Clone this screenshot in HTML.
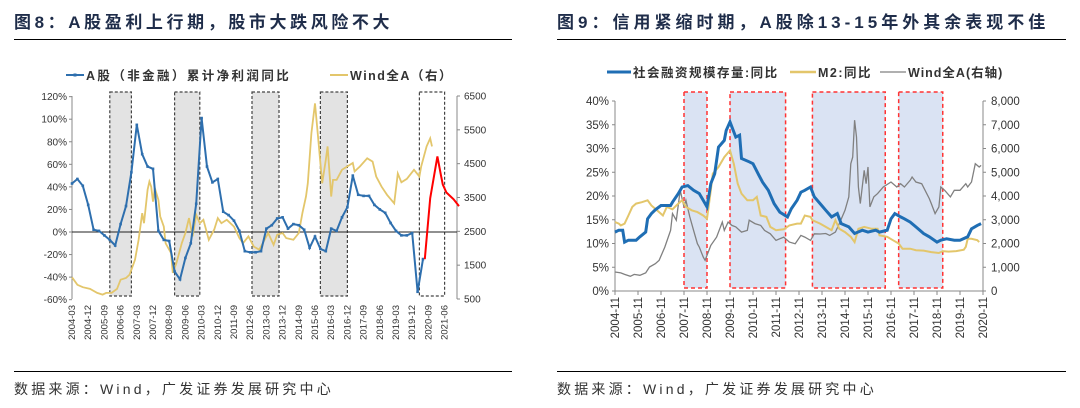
<!DOCTYPE html>
<html><head><meta charset="utf-8">
<style>
body{margin:0;background:#fff;}
svg{display:block;font-family:"Liberation Sans","Noto Sans CJK SC",sans-serif;}
</style></head>
<body>
<svg id="c" width="1080" height="408" viewBox="0 0 1080 408">
<text x="14" y="28" font-size="17" font-weight="bold" fill="#1f2d4a" letter-spacing="3.6">图8：A股盈利上行期，股市大跌风险不大</text>
<line x1="14" y1="39.5" x2="512" y2="39.5" stroke="#000" stroke-width="1"/>
<text x="557" y="28" font-size="17" font-weight="bold" fill="#1f2d4a" letter-spacing="4">图9：信用紧缩时期，A股除13-15年外其余表现不佳</text>
<line x1="557" y1="39.5" x2="1066" y2="39.5" stroke="#000" stroke-width="1"/>
<line x1="14" y1="371.5" x2="512" y2="371.5" stroke="#000" stroke-width="1"/>
<line x1="557" y1="371.5" x2="1066" y2="371.5" stroke="#000" stroke-width="1"/>
<text x="14" y="394" font-size="14" fill="#333" letter-spacing="3.2">数据来源：Wind，广发证券发展研究中心</text>
<text x="557" y="394" font-size="14" fill="#333" letter-spacing="3.2">数据来源：Wind，广发证券发展研究中心</text>
</svg>
<script>
// ---------- LEFT CHART DATA ----------
const leftBoxes = [[21,33],[57,71],[100,115],[138,153],[193,207]];
const leftBoxFill = [true,true,true,true,false];
const leftYTicks = [120,100,80,60,40,20,0,-20,-40,-60];
const leftRTicks = [6500,5500,4500,3500,2500,1500,500];
const leftXLabels = ["2004-03","2004-12","2005-09","2006-06","2007-03","2007-12","2008-09","2009-06","2010-03","2010-12","2011-09","2012-06","2013-03","2013-12","2014-09","2015-06","2016-03","2016-12","2017-09","2018-06","2019-03","2019-12","2020-09","2021-06"];
const profitVals = [43,47,41,24,2,1,-3,-7,-12,7,23,53,95,69,58,56,1,-7,-8,-35,-42,-23,-10,25,101,58,44,47,18,15,10,1,-17,-18,-18,-17,3,6,12,13,3,7,6,2,-14,-4,-15,-17,3,1,13,22,50,33,32,32,24,20,17,8,1,-3,-3,-1,-53,-24];
const forecastMonths = [196,199,203,205,206,208,212,215];
const forecastVals = [-24,30,67,50,42,35,29,23];
const windLMonths = [0,3,6,10,14,17,19,22,25,27,30,32,35,37,39,40,42,43,44,45,46,48,49,51,52,55,56,58,61,63,65,67,69,71,73,76,79,81,83,86,90,93,95,98,101,104,106,109,112,114,117,119,123,126,128,130,131,133,135,137,139,141,142,144,145,147,150,153,156,157,160,164,167,169,172,175,179,181,183,186,190,193,194,197,199,200];
const windLVals = [1140,920,850,800,680,630,680,680,800,1070,1120,1220,1660,2250,3040,2740,3730,3970,3820,3380,3780,3430,2940,2640,2150,1860,1270,1560,2150,2450,2890,2350,2990,2740,2840,2250,2550,2890,2740,2840,2640,2300,2150,2350,2050,1960,2150,2450,2100,2400,2450,2300,2250,2450,3040,3530,3920,5400,6280,5110,3920,4610,5010,3530,4020,4020,4320,4420,4520,4270,4420,4660,4560,4120,3820,3580,3330,4210,3950,4050,4320,4120,4420,5010,5250,5010];

// ---------- RIGHT CHART DATA ----------
const rightBoxes = [[36,48],[60,89],[103,141],[148,171]];
const rightYTicks = [0,5,10,15,20,25,30,35,40];
const rightRTicks = [0,1000,2000,3000,4000,5000,6000,7000,8000];
const rightXLabels = ["2004-11","2005-11","2006-11","2007-11","2008-11","2009-11","2010-11","2011-11","2012-11","2013-11","2014-11","2015-11","2016-11","2017-11","2018-11","2019-11","2020-11"];
const tsfMonths = [0,2,4,5,7,10,11,13,16,17,19,21,24,26,29,30,33,35,38,41,44,46,48,50,52,54,57,58,60,63,65,66,70,72,75,77,80,83,86,90,92,95,97,99,102,104,107,110,113,116,118,122,125,129,132,136,138,142,144,146,149,151,154,157,161,164,168,170,173,177,180,184,186,189,191];
const tsfVals = [12.4,12.8,12.8,10.3,10.7,10.7,10.7,11.4,12.4,15.2,16.3,17.1,18,18,18,18.7,20.5,21.9,22.2,21.2,20.5,19.1,17.7,22.6,24.7,30.3,31.7,33.8,35.6,32.4,32.8,27.9,27.2,26.8,24.4,22.9,21.2,18.4,16.6,15.6,17.3,19.1,20.8,21.2,21.9,19.8,18.4,17,15.6,16.3,14.2,13.5,12.1,12.8,12.4,12.8,12.4,12.8,15.2,16.3,15.6,15.2,14.5,13.5,12.1,11.4,10.3,10.7,11,10.7,10.7,11.4,13.1,13.8,14.2];
const m2Months = [0,2,3,5,7,9,11,14,17,19,21,23,25,27,30,32,35,37,40,43,46,48,50,51,54,57,60,62,64,66,69,72,74,76,79,81,84,88,91,95,97,99,102,103,107,110,113,115,117,120,123,125,127,130,134,137,138,142,145,148,150,154,157,161,165,169,171,174,178,182,183,184,186,189,190];
const m2Vals = [14.5,14.2,13.8,14.2,15.9,17.7,18.4,18.7,19.1,18,17.3,16.6,15.9,17.7,17.2,18,19.1,17.7,17,16.6,15.9,15.2,21.2,24.7,26.1,28.2,29.6,26.8,22.6,20.5,19.1,19.1,19.8,15.9,15.6,13.5,12.8,13,13.8,14.2,14.2,15.9,15.6,14.9,14.2,13.5,12.8,14.9,13.1,12.4,11.4,10.3,13.1,13.5,13.1,13.1,11.7,11.4,10.7,10,8.9,8.9,8.6,8.5,8.2,8,8.4,8.3,8.4,8.7,9.3,11,11,10.7,10.3];
const windRMonths = [0,3,5,8,10,13,16,18,21,23,26,29,30,32,34,36,37,39,41,43,44,46,47,49,50,53,56,57,59,61,63,66,69,70,73,76,78,81,84,88,91,94,97,99,102,104,107,110,112,115,117,120,122,123,124,125,126,127,128,130,131,132,133,135,137,140,144,147,149,151,154,155,157,160,164,165,167,169,170,172,175,177,180,183,184,186,188,190,191];
const windRVals = [800,760,700,620,700,660,760,1010,1150,1290,1850,2550,3260,2980,4240,3540,3820,3120,2550,1990,1850,1430,1290,1710,1920,2270,2900,2550,2900,2760,2700,2480,2550,2980,2840,2760,2550,2410,2130,2270,2060,1990,2340,2270,2130,2410,2400,2420,2340,2480,2840,3400,3960,5360,5640,7190,6480,4380,3680,5080,4520,5220,3540,3960,4100,4380,4590,4380,4520,4380,4660,4800,4590,4520,3890,3680,3260,3540,4380,4240,3960,4240,4240,4520,4380,4590,5360,5220,5290];

// ---------- AXES ----------
const xL = m => 72 + m * 1.8;
const yL = p => 232 - p * 1.128;
const yLr = v => 299 - (v - 500) * 203 / 6000;
const xR = m => 615 + m * 1.9167;
const yR = p => 291 - p * 4.75;
const yRr = v => 291 - v * 190 / 8000;

const svg = document.getElementById('c');
const NS = 'http://www.w3.org/2000/svg';
function mk(tag, attrs, text){
  const e = document.createElementNS(NS, tag);
  for (const k in attrs) e.setAttribute(k, attrs[k]);
  if (text !== undefined) e.textContent = text;
  svg.appendChild(e);
  return e;
}
function pts(ms, vs, fx, fy){ return ms.map((m,i)=>fx(m).toFixed(1)+','+fy(vs[i]).toFixed(1)).join(' '); }

leftBoxes.forEach((b,i)=>{
  const r = mk('rect',{x:xL(b[0]),y:92,width:xL(b[1])-xL(b[0]),height:204,fill:leftBoxFill[i]?'#e3e3e3':'none',stroke:'#444','stroke-width':1.2,'stroke-dasharray':'3,2'});
  
  
});
rightBoxes.forEach(b=>{
  const r = mk('rect',{x:xR(b[0]),y:92,width:xR(b[1])-xR(b[0]),height:196,fill:'#dae3f3',stroke:'#ff3333','stroke-width':1.5,'stroke-dasharray':'4,3'});
  
  
});

let a = mk('line',{x1:72,y1:96,x2:72,y2:299,stroke:'#888'});


a = mk('line',{x1:457,y1:96,x2:457,y2:299,stroke:'#888'});


a = mk('line',{x1:72,y1:yL(0),x2:457,y2:yL(0),stroke:'#222'});


leftYTicks.forEach(t=>{
  const e = mk('text',{x:67,y:yL(t)+3.5,'font-size':10,'text-anchor':'end',fill:'#333'}, t+'%');
  
  
  const k = mk('line',{x1:69,y1:yL(t),x2:72,y2:yL(t),stroke:'#888'});
  
  
});
leftRTicks.forEach(t=>{
  const e = mk('text',{x:464,y:yLr(t)+3.5,'font-size':10,fill:'#333'}, t);
  
  
  const k = mk('line',{x1:457,y1:yLr(t),x2:460,y2:yLr(t),stroke:'#888'});
  
  
});
leftXLabels.forEach((s,i)=>{
  const x = xL(i*9)+3;
  const e = mk('text',{x:x,y:305,'font-size':9.5,'text-anchor':'end',fill:'#333',transform:`rotate(-90 ${x} 305)`}, s);
  
  
});

let p = mk('polyline',{points:pts(windLMonths,windLVals,xL,yLr),fill:'none',stroke:'#e3c66b','stroke-width':1.8});


const profitMonths = profitVals.map((v,i)=>i*3);
p = mk('polyline',{points:pts(profitMonths,profitVals,xL,yL),fill:'none',stroke:'#2e6fae','stroke-width':2});


profitVals.forEach((v,i)=>{
  const r = mk('rect',{x:xL(i*3)-1.3,y:yL(v)-1.3,width:2.6,height:2.6,fill:'#2e6fae'});
  
  
});
p = mk('polyline',{points:pts(forecastMonths,forecastVals,xL,yL),fill:'none',stroke:'#ff0000','stroke-width':2});



a = mk('line',{x1:66,y1:75,x2:84,y2:75,stroke:'#2e6fae','stroke-width':2});


a = mk('rect',{x:73.5,y:73.5,width:3,height:3,fill:'#2e6fae'});


a = mk('text',{x:86,y:80,'font-size':12.5,'font-weight':'bold',fill:'#333','letter-spacing':2.4},'A股（非金融）累计净利润同比');


a = mk('line',{x1:330,y1:75,x2:348,y2:75,stroke:'#e3c66b','stroke-width':2});


a = mk('text',{x:350,y:80,'font-size':12.5,'font-weight':'bold',fill:'#333','letter-spacing':1.5},'Wind全A（右）');



a = mk('line',{x1:615,y1:101,x2:615,y2:291,stroke:'#888'});


a = mk('line',{x1:983,y1:101,x2:983,y2:291,stroke:'#888'});


a = mk('line',{x1:615,y1:291,x2:983,y2:291,stroke:'#888'});


rightYTicks.forEach(t=>{
  const e = mk('text',{x:609,y:yR(t)+4,'font-size':11.5,'text-anchor':'end',fill:'#333'}, t+'%');
  
  
  const k = mk('line',{x1:612,y1:yR(t),x2:615,y2:yR(t),stroke:'#888'});
  
  
});
rightRTicks.forEach(t=>{
  const e = mk('text',{x:991,y:yRr(t)+4,'font-size':11.5,fill:'#333'}, t.toLocaleString('en-US'));
  
  
  const k = mk('line',{x1:983,y1:yRr(t),x2:986,y2:yRr(t),stroke:'#888'});
  
  
});
rightXLabels.forEach((s,i)=>{
  const x = xR(i*12)+4;
  const k = mk('line',{x1:xR(i*12),y1:291,x2:xR(i*12),y2:295,stroke:'#888'});
  
  
  const e = mk('text',{x:x,y:297,'font-size':11.5,'text-anchor':'end',fill:'#333',transform:`rotate(-90 ${x} 297)`}, s);
  
  
});

p = mk('polyline',{points:pts(windRMonths,windRVals,xR,yRr),fill:'none',stroke:'#808080','stroke-width':1.3});


p = mk('polyline',{points:pts(m2Months,m2Vals,xR,yR),fill:'none',stroke:'#e3c66b','stroke-width':2});


p = mk('polyline',{points:pts(tsfMonths,tsfVals,xR,yR),fill:'none',stroke:'#1f6eb4','stroke-width':3});



a = mk('line',{x1:607,y1:72,x2:631,y2:72,stroke:'#1f6eb4','stroke-width':3});


a = mk('text',{x:633,y:77,'font-size':12.5,'font-weight':'bold',fill:'#333','letter-spacing':1.5},'社会融资规模存量:同比');


a = mk('line',{x1:790,y1:72,x2:816,y2:72,stroke:'#e3c66b','stroke-width':2.5});


a = mk('text',{x:818,y:77,'font-size':12.5,'font-weight':'bold',fill:'#333','letter-spacing':1.5},'M2:同比');


a = mk('line',{x1:880,y1:72,x2:906,y2:72,stroke:'#808080','stroke-width':1.3});


a = mk('text',{x:908,y:77,'font-size':12.5,'font-weight':'bold',fill:'#333','letter-spacing':1},'Wind全A(右轴)');


</script>
</body></html>
